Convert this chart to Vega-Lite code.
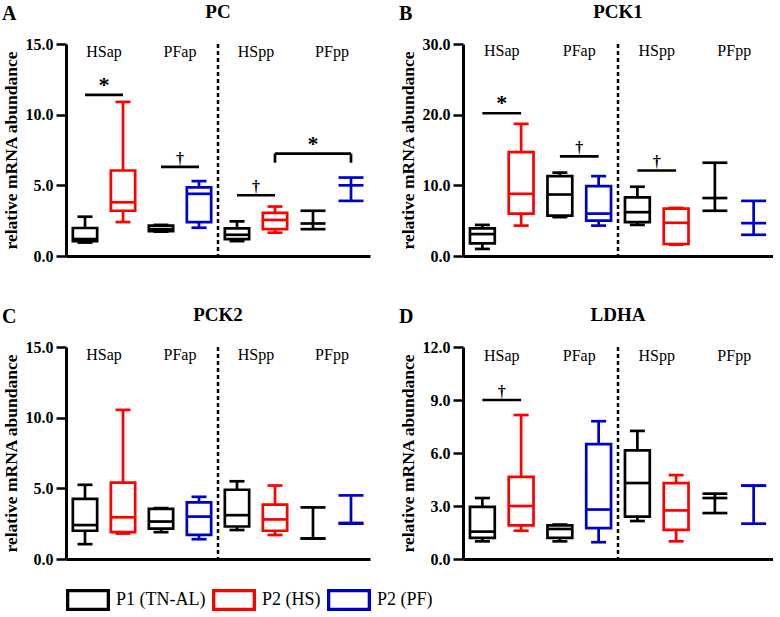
{
"$schema": "https://vega.github.io/schema/vega-lite/v6.json",
"padding": {"left": 2, "top": 3, "right": 0, "bottom": 0},
"datasets": {
"boxes": [
{"gene":"PC","cat":"HSap-P1","grp":"P1 (TN-AL)","min":0.95,"q1":1.05,"med":1.2,"q3":1.98,"max":2.78},
{"gene":"PC","cat":"HSap-HS","grp":"P2 (HS)","min":2.4,"q1":3.2,"med":3.8,"q3":6.05,"max":10.9},
{"gene":"PC","cat":"PFap-P1","grp":"P1 (TN-AL)","min":1.72,"q1":1.75,"med":1.9,"q3":2.15,"max":2.2},
{"gene":"PC","cat":"PFap-PF","grp":"P2 (PF)","min":2.0,"q1":2.4,"med":4.4,"q3":4.85,"max":5.3},
{"gene":"PC","cat":"HSpp-P1","grp":"P1 (TN-AL)","min":1.05,"q1":1.2,"med":1.5,"q3":1.95,"max":2.45},
{"gene":"PC","cat":"HSpp-HS","grp":"P2 (HS)","min":1.65,"q1":1.9,"med":2.55,"q3":3.05,"max":3.5},
{"gene":"PC","cat":"PFpp-P1","grp":"P1 (TN-AL)","min":1.9,"q1":null,"med":2.3,"q3":null,"max":3.2},
{"gene":"PC","cat":"PFpp-PF","grp":"P2 (PF)","min":3.9,"q1":null,"med":5.0,"q3":null,"max":5.55},
{"gene":"PCK1","cat":"HSap-P1","grp":"P1 (TN-AL)","min":1.0,"q1":1.8,"med":3.1,"q3":3.9,"max":4.4},
{"gene":"PCK1","cat":"HSap-HS","grp":"P2 (HS)","min":4.3,"q1":6.0,"med":8.8,"q3":14.7,"max":18.7},
{"gene":"PCK1","cat":"PFap-P1","grp":"P1 (TN-AL)","min":5.5,"q1":5.7,"med":8.7,"q3":11.3,"max":11.8},
{"gene":"PCK1","cat":"PFap-PF","grp":"P2 (PF)","min":4.3,"q1":5.0,"med":6.0,"q3":9.9,"max":11.3},
{"gene":"PCK1","cat":"HSpp-P1","grp":"P1 (TN-AL)","min":4.4,"q1":4.8,"med":6.2,"q3":8.3,"max":9.8},
{"gene":"PCK1","cat":"HSpp-HS","grp":"P2 (HS)","min":1.6,"q1":1.7,"med":4.7,"q3":6.7,"max":6.8},
{"gene":"PCK1","cat":"PFpp-P1","grp":"P1 (TN-AL)","min":6.4,"q1":null,"med":8.2,"q3":null,"max":13.2},
{"gene":"PCK1","cat":"PFpp-PF","grp":"P2 (PF)","min":3.0,"q1":null,"med":4.65,"q3":null,"max":7.8},
{"gene":"PCK2","cat":"HSap-P1","grp":"P1 (TN-AL)","min":1.05,"q1":2.0,"med":2.4,"q3":4.25,"max":5.25},
{"gene":"PCK2","cat":"HSap-HS","grp":"P2 (HS)","min":1.8,"q1":1.9,"med":2.95,"q3":5.4,"max":10.55},
{"gene":"PCK2","cat":"PFap-P1","grp":"P1 (TN-AL)","min":1.9,"q1":2.15,"med":2.65,"q3":3.55,"max":3.6},
{"gene":"PCK2","cat":"PFap-PF","grp":"P2 (PF)","min":1.4,"q1":1.7,"med":3.0,"q3":4.0,"max":4.4},
{"gene":"PCK2","cat":"HSpp-P1","grp":"P1 (TN-AL)","min":2.05,"q1":2.3,"med":3.1,"q3":4.9,"max":5.5},
{"gene":"PCK2","cat":"HSpp-HS","grp":"P2 (HS)","min":1.7,"q1":2.0,"med":2.8,"q3":3.85,"max":5.2},
{"gene":"PCK2","cat":"PFpp-P1","grp":"P1 (TN-AL)","min":1.45,"q1":null,"med":1.45,"q3":null,"max":3.65},
{"gene":"PCK2","cat":"PFpp-PF","grp":"P2 (PF)","min":2.5,"q1":null,"med":2.55,"q3":null,"max":4.5},
{"gene":"LDHA","cat":"HSap-P1","grp":"P1 (TN-AL)","min":1.0,"q1":1.2,"med":1.55,"q3":2.95,"max":3.45},
{"gene":"LDHA","cat":"HSap-HS","grp":"P2 (HS)","min":1.6,"q1":1.9,"med":3.0,"q3":4.65,"max":8.15},
{"gene":"LDHA","cat":"PFap-P1","grp":"P1 (TN-AL)","min":1.0,"q1":1.2,"med":1.7,"q3":1.9,"max":1.95},
{"gene":"LDHA","cat":"PFap-PF","grp":"P2 (PF)","min":0.95,"q1":1.75,"med":2.8,"q3":6.5,"max":7.8},
{"gene":"LDHA","cat":"HSpp-P1","grp":"P1 (TN-AL)","min":2.15,"q1":2.4,"med":4.3,"q3":6.15,"max":7.25},
{"gene":"LDHA","cat":"HSpp-HS","grp":"P2 (HS)","min":1.0,"q1":1.65,"med":2.75,"q3":4.3,"max":4.75},
{"gene":"LDHA","cat":"PFpp-P1","grp":"P1 (TN-AL)","min":2.6,"q1":null,"med":3.45,"q3":null,"max":3.7},
{"gene":"LDHA","cat":"PFpp-PF","grp":"P2 (PF)","min":2.0,"q1":null,"med":4.15,"q3":null,"max":4.15}
],
"sig": [
{"gene":"PC","c1":"HSap-P1","c2":"HSap-HS","y":11.4,"sym":"*"},
{"gene":"PC","c1":"PFap-P1","c2":"PFap-PF","y":6.3,"sym":"†"},
{"gene":"PC","c1":"HSpp-P1","c2":"HSpp-HS","y":4.3,"sym":"†"},
{"gene":"PCK1","c1":"HSap-P1","c2":"HSap-HS","y":20.2,"sym":"*"},
{"gene":"PCK1","c1":"PFap-P1","c2":"PFap-PF","y":14.1,"sym":"†"},
{"gene":"PCK1","c1":"HSpp-P1","c2":"HSpp-HS","y":12.1,"sym":"†"},
{"gene":"LDHA","c1":"HSap-P1","c2":"HSap-HS","y":9.0,"sym":"†"}
],
"bracket": [
{"gene":"PC","c1":"HSpp-HS","c2":"PFpp-PF","mid":"PFpp-P1","y":7.25,"ylo":6.6,"sym":"*"}
],
"labels": [
{"cat":"HSap-HS","label":"HSap"},
{"cat":"PFap-PF","label":"PFap"},
{"cat":"HSpp-HS","label":"HSpp"},
{"cat":"PFpp-PF","label":"PFpp"}
]
},
"spacing": 42,
"vconcat": [
{"spacing": 29, "hconcat": [
{"title": {"text": "A", "anchor": "start", "fontSize": 20, "fontWeight": "bold", "offset": 0, "dy": 21},
 "vconcat": [{
  "title": {"text": "PC", "anchor": "middle", "frame": "group", "fontSize": 19, "fontWeight": "bold", "offset": 14},
  "width": 304, "height": 212,
  "layer": [
   {"data": {"values": [{"cat": "HSpp-P1"}]}, "mark": {"type": "rule", "strokeDash": [4,3], "strokeWidth": 2.5, "color": "black"},
    "encoding": {"x": {"field": "cat", "type": "nominal", "bandPosition": 0, "scale": {"domain": ["HSap-P1","HSap-HS","PFap-P1","PFap-PF","HSpp-P1","HSpp-HS","PFpp-P1","PFpp-PF"], "paddingInner": 0, "paddingOuter": 0}, "title": null}}},
   {"data": {"name": "boxes"}, "transform": [{"filter": "datum.gene == 'PC' && datum.q1 !== null"}], "mark": {"type": "rule", "strokeWidth": 2.7},
    "encoding": {"x": {"field": "cat", "type": "nominal", "scale": {"domain": ["HSap-P1","HSap-HS","PFap-P1","PFap-PF","HSpp-P1","HSpp-HS","PFpp-P1","PFpp-PF"], "paddingInner": 0, "paddingOuter": 0}, "title": null, "axis": {"labels": false, "ticks": false, "domainWidth": 3, "domainColor": "black"}},
     "y": {"field": "min", "type": "quantitative", "scale": {"domain": [0, 15], "nice": false}, "axis": {"values": [0, 5, 10, 15], "format": ".1f", "labelOverlap": false, "labelFont": "Liberation Serif", "labelFontSize": 16, "labelFontWeight": "bold", "labelColor": "black", "titleFont": "Liberation Serif", "titleFontSize": 17.5, "titleFontWeight": "bold", "titleColor": "black", "tickSize": 10, "tickWidth": 2.5, "tickColor": "black", "domainWidth": 3, "domainColor": "black", "labelPadding": 3, "titlePadding": 5}, "title": "relative mRNA abundance"},
     "y2": {"field": "q1"},
     "stroke": {"field": "grp", "type": "nominal", "scale": {"domain": ["P1 (TN-AL)","P2 (HS)","P2 (PF)"], "range": ["#000000","#ff0000","#0000cc"]}, "title": null,
      "legend": {"orient": "bottom", "direction": "horizontal", "offset": 11, "symbolType": "M-1,-0.5H1V0.5H-1Z M-0.85,-0.35V0.35H0.85V-0.35Z", "symbolSize": 1936, "symbolStrokeWidth": 0, "labelFont": "Liberation Serif", "labelFontSize": 18, "labelColor": "black", "labelOffset": 6, "columnPadding": 6}}}},
   {"data": {"name": "boxes"}, "transform": [{"filter": "datum.gene == 'PC' && datum.q1 !== null"}], "mark": {"type": "rule", "strokeWidth": 2.7},
    "encoding": {"x": {"field": "cat", "type": "nominal", "title": null},
     "y": {"field": "q3", "type": "quantitative", "title": "relative mRNA abundance"}, "y2": {"field": "max"},
     "stroke": {"field": "grp", "type": "nominal", "title": null}}},
   {"data": {"name": "boxes"}, "transform": [{"filter": "datum.gene == 'PC' && datum.q1 === null"}], "mark": {"type": "rule", "strokeWidth": 2.7},
    "encoding": {"x": {"field": "cat", "type": "nominal", "title": null},
     "y": {"field": "min", "type": "quantitative", "title": "relative mRNA abundance"}, "y2": {"field": "max"},
     "stroke": {"field": "grp", "type": "nominal", "title": null}}},
   {"data": {"name": "boxes"}, "transform": [{"filter": "datum.gene == 'PC' && datum.q1 !== null"}], "mark": {"type": "bar", "filled": false, "strokeWidth": 2.7, "width": {"band": 0.64}},
    "encoding": {"x": {"field": "cat", "type": "nominal", "title": null},
     "y": {"field": "q1", "type": "quantitative", "title": "relative mRNA abundance"}, "y2": {"field": "q3"},
     "stroke": {"field": "grp", "type": "nominal", "title": null}}},
   {"data": {"name": "boxes"}, "transform": [{"filter": "datum.gene == 'PC'"}], "mark": {"type": "tick", "thickness": 2.7, "size": 25, "opacity": 1},
    "encoding": {"x": {"field": "cat", "type": "nominal", "title": null},
     "y": {"field": "med", "type": "quantitative", "title": "relative mRNA abundance"},
     "color": {"field": "grp", "type": "nominal", "scale": {"domain": ["P1 (TN-AL)","P2 (HS)","P2 (PF)"], "range": ["#000000","#ff0000","#0000cc"]}, "legend": null}}},
   {"data": {"name": "boxes"}, "transform": [{"filter": "datum.gene == 'PC'"}, {"fold": ["min", "max"], "as": ["stat", "v"]}], "mark": {"type": "tick", "thickness": 2.7, "opacity": 1},
    "encoding": {"x": {"field": "cat", "type": "nominal", "title": null},
     "y": {"field": "v", "type": "quantitative", "title": "relative mRNA abundance"},
     "size": {"condition": {"test": "datum.q1 === null", "value": 25}, "value": 15},
     "color": {"field": "grp", "type": "nominal", "legend": null}}},
   {"data": {"name": "labels"}, "mark": {"type": "text", "fontSize": 16, "baseline": "middle", "fill": "black"},
    "encoding": {"x": {"field": "cat", "type": "nominal", "bandPosition": 0, "title": null},
     "y": {"datum": 14.4, "type": "quantitative", "title": "relative mRNA abundance"}, "text": {"field": "label"}}},
   {"data": {"name": "sig"}, "transform": [{"filter": "datum.gene == 'PC'"}], "mark": {"type": "rule", "strokeWidth": 2.7, "color": "black"},
    "encoding": {"x": {"field": "c1", "type": "nominal", "title": null}, "x2": {"field": "c2"},
     "y": {"field": "y", "type": "quantitative", "title": "relative mRNA abundance"}}},
   {"data": {"name": "sig"}, "transform": [{"filter": "datum.gene == 'PC'"}], "mark": {"type": "text", "fontWeight": "bold", "baseline": "alphabetic", "dy": -3, "fill": "black"},
    "encoding": {"x": {"field": "c2", "type": "nominal", "bandPosition": 0, "title": null},
     "y": {"field": "y", "type": "quantitative", "title": "relative mRNA abundance"}, "text": {"field": "sym"},
     "size": {"condition": {"test": "datum.sym == '*'", "value": 22}, "value": 16}}},
   {"data": {"name": "bracket"}, "mark": {"type": "rule", "strokeWidth": 2.7, "color": "black"},
    "encoding": {"x": {"field": "c1", "type": "nominal", "title": null}, "x2": {"field": "c2"},
     "y": {"field": "y", "type": "quantitative", "title": "relative mRNA abundance"}}},
   {"data": {"name": "bracket"}, "transform": [{"fold": ["c1", "c2"], "as": ["end", "cat"]}], "mark": {"type": "rule", "strokeWidth": 2.7, "color": "black"},
    "encoding": {"x": {"field": "cat", "type": "nominal", "title": null},
     "y": {"field": "ylo", "type": "quantitative", "title": "relative mRNA abundance"}, "y2": {"field": "y"}}},
   {"data": {"name": "bracket"}, "mark": {"type": "text", "fontWeight": "bold", "baseline": "alphabetic", "dy": -3, "fontSize": 22, "fill": "black"},
    "encoding": {"x": {"field": "mid", "type": "nominal", "title": null},
     "y": {"field": "y", "type": "quantitative", "title": "relative mRNA abundance"}, "text": {"field": "sym"}}}
  ]
 }]
},
{"title": {"text": "B", "anchor": "start", "fontSize": 20, "fontWeight": "bold", "offset": 0, "dy": 21},
 "vconcat": [{
  "title": {"text": "PCK1", "anchor": "middle", "frame": "group", "fontSize": 19, "fontWeight": "bold", "offset": 14},
  "width": 310, "height": 212,
  "layer": [
   {"data": {"values": [{"cat": "HSpp-P1"}]}, "mark": {"type": "rule", "strokeDash": [4,3], "strokeWidth": 2.5, "color": "black"},
    "encoding": {"x": {"field": "cat", "type": "nominal", "bandPosition": 0, "scale": {"domain": ["HSap-P1","HSap-HS","PFap-P1","PFap-PF","HSpp-P1","HSpp-HS","PFpp-P1","PFpp-PF"], "paddingInner": 0, "paddingOuter": 0}, "title": null}}},
   {"data": {"name": "boxes"}, "transform": [{"filter": "datum.gene == 'PCK1' && datum.q1 !== null"}], "mark": {"type": "rule", "strokeWidth": 2.7},
    "encoding": {"x": {"field": "cat", "type": "nominal", "scale": {"domain": ["HSap-P1","HSap-HS","PFap-P1","PFap-PF","HSpp-P1","HSpp-HS","PFpp-P1","PFpp-PF"], "paddingInner": 0, "paddingOuter": 0}, "title": null, "axis": {"labels": false, "ticks": false, "domainWidth": 3, "domainColor": "black"}},
     "y": {"field": "min", "type": "quantitative", "scale": {"domain": [0, 30], "nice": false}, "axis": {"values": [0, 10, 20, 30], "format": ".1f", "labelOverlap": false, "labelFont": "Liberation Serif", "labelFontSize": 16, "labelFontWeight": "bold", "labelColor": "black", "titleFont": "Liberation Serif", "titleFontSize": 17.5, "titleFontWeight": "bold", "titleColor": "black", "tickSize": 10, "tickWidth": 2.5, "tickColor": "black", "domainWidth": 3, "domainColor": "black", "labelPadding": 3, "titlePadding": 5}, "title": "relative mRNA abundance"},
     "y2": {"field": "q1"},
     "stroke": {"field": "grp", "type": "nominal", "title": null}}},
   {"data": {"name": "boxes"}, "transform": [{"filter": "datum.gene == 'PCK1' && datum.q1 !== null"}], "mark": {"type": "rule", "strokeWidth": 2.7},
    "encoding": {"x": {"field": "cat", "type": "nominal", "title": null},
     "y": {"field": "q3", "type": "quantitative", "title": "relative mRNA abundance"}, "y2": {"field": "max"},
     "stroke": {"field": "grp", "type": "nominal", "title": null}}},
   {"data": {"name": "boxes"}, "transform": [{"filter": "datum.gene == 'PCK1' && datum.q1 === null"}], "mark": {"type": "rule", "strokeWidth": 2.7},
    "encoding": {"x": {"field": "cat", "type": "nominal", "title": null},
     "y": {"field": "min", "type": "quantitative", "title": "relative mRNA abundance"}, "y2": {"field": "max"},
     "stroke": {"field": "grp", "type": "nominal", "title": null}}},
   {"data": {"name": "boxes"}, "transform": [{"filter": "datum.gene == 'PCK1' && datum.q1 !== null"}], "mark": {"type": "bar", "filled": false, "strokeWidth": 2.7, "width": {"band": 0.64}},
    "encoding": {"x": {"field": "cat", "type": "nominal", "title": null},
     "y": {"field": "q1", "type": "quantitative", "title": "relative mRNA abundance"}, "y2": {"field": "q3"},
     "stroke": {"field": "grp", "type": "nominal", "title": null}}},
   {"data": {"name": "boxes"}, "transform": [{"filter": "datum.gene == 'PCK1'"}], "mark": {"type": "tick", "thickness": 2.7, "size": 25, "opacity": 1},
    "encoding": {"x": {"field": "cat", "type": "nominal", "title": null},
     "y": {"field": "med", "type": "quantitative", "title": "relative mRNA abundance"},
     "color": {"field": "grp", "type": "nominal", "legend": null}}},
   {"data": {"name": "boxes"}, "transform": [{"filter": "datum.gene == 'PCK1'"}, {"fold": ["min", "max"], "as": ["stat", "v"]}], "mark": {"type": "tick", "thickness": 2.7, "opacity": 1},
    "encoding": {"x": {"field": "cat", "type": "nominal", "title": null},
     "y": {"field": "v", "type": "quantitative", "title": "relative mRNA abundance"},
     "size": {"condition": {"test": "datum.q1 === null", "value": 25}, "value": 15},
     "color": {"field": "grp", "type": "nominal", "legend": null}}},
   {"data": {"name": "labels"}, "mark": {"type": "text", "fontSize": 16, "baseline": "middle", "fill": "black"},
    "encoding": {"x": {"field": "cat", "type": "nominal", "bandPosition": 0, "title": null},
     "y": {"datum": 29.0, "type": "quantitative", "title": "relative mRNA abundance"}, "text": {"field": "label"}}},
   {"data": {"name": "sig"}, "transform": [{"filter": "datum.gene == 'PCK1'"}], "mark": {"type": "rule", "strokeWidth": 2.7, "color": "black"},
    "encoding": {"x": {"field": "c1", "type": "nominal", "title": null}, "x2": {"field": "c2"},
     "y": {"field": "y", "type": "quantitative", "title": "relative mRNA abundance"}}},
   {"data": {"name": "sig"}, "transform": [{"filter": "datum.gene == 'PCK1'"}], "mark": {"type": "text", "fontWeight": "bold", "baseline": "alphabetic", "dy": -3, "fill": "black"},
    "encoding": {"x": {"field": "c2", "type": "nominal", "bandPosition": 0, "title": null},
     "y": {"field": "y", "type": "quantitative", "title": "relative mRNA abundance"}, "text": {"field": "sym"},
     "size": {"condition": {"test": "datum.sym == '*'", "value": 22}, "value": 16}}}
  ]
 }]
}
]},
{"spacing": 29, "hconcat": [
{"title": {"text": "C", "anchor": "start", "fontSize": 20, "fontWeight": "bold", "offset": 0, "dy": 21},
 "vconcat": [{
  "title": {"text": "PCK2", "anchor": "middle", "frame": "group", "fontSize": 19, "fontWeight": "bold", "offset": 14},
  "width": 304, "height": 212,
  "layer": [
   {"data": {"values": [{"cat": "HSpp-P1"}]}, "mark": {"type": "rule", "strokeDash": [4,3], "strokeWidth": 2.5, "color": "black"},
    "encoding": {"x": {"field": "cat", "type": "nominal", "bandPosition": 0, "scale": {"domain": ["HSap-P1","HSap-HS","PFap-P1","PFap-PF","HSpp-P1","HSpp-HS","PFpp-P1","PFpp-PF"], "paddingInner": 0, "paddingOuter": 0}, "title": null}}},
   {"data": {"name": "boxes"}, "transform": [{"filter": "datum.gene == 'PCK2' && datum.q1 !== null"}], "mark": {"type": "rule", "strokeWidth": 2.7},
    "encoding": {"x": {"field": "cat", "type": "nominal", "scale": {"domain": ["HSap-P1","HSap-HS","PFap-P1","PFap-PF","HSpp-P1","HSpp-HS","PFpp-P1","PFpp-PF"], "paddingInner": 0, "paddingOuter": 0}, "title": null, "axis": {"labels": false, "ticks": false, "domainWidth": 3, "domainColor": "black"}},
     "y": {"field": "min", "type": "quantitative", "scale": {"domain": [0, 15], "nice": false}, "axis": {"values": [0, 5, 10, 15], "format": ".1f", "labelOverlap": false, "labelFont": "Liberation Serif", "labelFontSize": 16, "labelFontWeight": "bold", "labelColor": "black", "titleFont": "Liberation Serif", "titleFontSize": 17.5, "titleFontWeight": "bold", "titleColor": "black", "tickSize": 10, "tickWidth": 2.5, "tickColor": "black", "domainWidth": 3, "domainColor": "black", "labelPadding": 3, "titlePadding": 5}, "title": "relative mRNA abundance"},
     "y2": {"field": "q1"},
     "stroke": {"field": "grp", "type": "nominal", "title": null}}},
   {"data": {"name": "boxes"}, "transform": [{"filter": "datum.gene == 'PCK2' && datum.q1 !== null"}], "mark": {"type": "rule", "strokeWidth": 2.7},
    "encoding": {"x": {"field": "cat", "type": "nominal", "title": null},
     "y": {"field": "q3", "type": "quantitative", "title": "relative mRNA abundance"}, "y2": {"field": "max"},
     "stroke": {"field": "grp", "type": "nominal", "title": null}}},
   {"data": {"name": "boxes"}, "transform": [{"filter": "datum.gene == 'PCK2' && datum.q1 === null"}], "mark": {"type": "rule", "strokeWidth": 2.7},
    "encoding": {"x": {"field": "cat", "type": "nominal", "title": null},
     "y": {"field": "min", "type": "quantitative", "title": "relative mRNA abundance"}, "y2": {"field": "max"},
     "stroke": {"field": "grp", "type": "nominal", "title": null}}},
   {"data": {"name": "boxes"}, "transform": [{"filter": "datum.gene == 'PCK2' && datum.q1 !== null"}], "mark": {"type": "bar", "filled": false, "strokeWidth": 2.7, "width": {"band": 0.64}},
    "encoding": {"x": {"field": "cat", "type": "nominal", "title": null},
     "y": {"field": "q1", "type": "quantitative", "title": "relative mRNA abundance"}, "y2": {"field": "q3"},
     "stroke": {"field": "grp", "type": "nominal", "title": null}}},
   {"data": {"name": "boxes"}, "transform": [{"filter": "datum.gene == 'PCK2'"}], "mark": {"type": "tick", "thickness": 2.7, "size": 25, "opacity": 1},
    "encoding": {"x": {"field": "cat", "type": "nominal", "title": null},
     "y": {"field": "med", "type": "quantitative", "title": "relative mRNA abundance"},
     "color": {"field": "grp", "type": "nominal", "legend": null}}},
   {"data": {"name": "boxes"}, "transform": [{"filter": "datum.gene == 'PCK2'"}, {"fold": ["min", "max"], "as": ["stat", "v"]}], "mark": {"type": "tick", "thickness": 2.7, "opacity": 1},
    "encoding": {"x": {"field": "cat", "type": "nominal", "title": null},
     "y": {"field": "v", "type": "quantitative", "title": "relative mRNA abundance"},
     "size": {"condition": {"test": "datum.q1 === null", "value": 25}, "value": 15},
     "color": {"field": "grp", "type": "nominal", "legend": null}}},
   {"data": {"name": "labels"}, "mark": {"type": "text", "fontSize": 16, "baseline": "middle", "fill": "black"},
    "encoding": {"x": {"field": "cat", "type": "nominal", "bandPosition": 0, "title": null},
     "y": {"datum": 14.4, "type": "quantitative", "title": "relative mRNA abundance"}, "text": {"field": "label"}}}
  ]
 }]
},
{"title": {"text": "D", "anchor": "start", "fontSize": 20, "fontWeight": "bold", "offset": 0, "dy": 21},
 "vconcat": [{
  "title": {"text": "LDHA", "anchor": "middle", "frame": "group", "fontSize": 19, "fontWeight": "bold", "offset": 14},
  "width": 310, "height": 212,
  "layer": [
   {"data": {"values": [{"cat": "HSpp-P1"}]}, "mark": {"type": "rule", "strokeDash": [4,3], "strokeWidth": 2.5, "color": "black"},
    "encoding": {"x": {"field": "cat", "type": "nominal", "bandPosition": 0, "scale": {"domain": ["HSap-P1","HSap-HS","PFap-P1","PFap-PF","HSpp-P1","HSpp-HS","PFpp-P1","PFpp-PF"], "paddingInner": 0, "paddingOuter": 0}, "title": null}}},
   {"data": {"name": "boxes"}, "transform": [{"filter": "datum.gene == 'LDHA' && datum.q1 !== null"}], "mark": {"type": "rule", "strokeWidth": 2.7},
    "encoding": {"x": {"field": "cat", "type": "nominal", "scale": {"domain": ["HSap-P1","HSap-HS","PFap-P1","PFap-PF","HSpp-P1","HSpp-HS","PFpp-P1","PFpp-PF"], "paddingInner": 0, "paddingOuter": 0}, "title": null, "axis": {"labels": false, "ticks": false, "domainWidth": 3, "domainColor": "black"}},
     "y": {"field": "min", "type": "quantitative", "scale": {"domain": [0, 12], "nice": false}, "axis": {"values": [0, 1.5, 3, 4.5, 6, 7.5, 9, 10.5, 12], "format": ".1f", "labelOverlap": false, "labelFont": "Liberation Serif", "labelFontSize": 16, "labelFontWeight": "bold", "labelColor": "black", "titleFont": "Liberation Serif", "titleFontSize": 17.5, "titleFontWeight": "bold", "titleColor": "black", "tickSize": 10, "tickWidth": 2.5, "tickColor": "black", "domainWidth": 3, "domainColor": "black", "labelPadding": 3, "titlePadding": 5}, "title": "relative mRNA abundance"},
     "y2": {"field": "q1"},
     "stroke": {"field": "grp", "type": "nominal", "title": null}}},
   {"data": {"name": "boxes"}, "transform": [{"filter": "datum.gene == 'LDHA' && datum.q1 !== null"}], "mark": {"type": "rule", "strokeWidth": 2.7},
    "encoding": {"x": {"field": "cat", "type": "nominal", "title": null},
     "y": {"field": "q3", "type": "quantitative", "title": "relative mRNA abundance"}, "y2": {"field": "max"},
     "stroke": {"field": "grp", "type": "nominal", "title": null}}},
   {"data": {"name": "boxes"}, "transform": [{"filter": "datum.gene == 'LDHA' && datum.q1 === null"}], "mark": {"type": "rule", "strokeWidth": 2.7},
    "encoding": {"x": {"field": "cat", "type": "nominal", "title": null},
     "y": {"field": "min", "type": "quantitative", "title": "relative mRNA abundance"}, "y2": {"field": "max"},
     "stroke": {"field": "grp", "type": "nominal", "title": null}}},
   {"data": {"name": "boxes"}, "transform": [{"filter": "datum.gene == 'LDHA' && datum.q1 !== null"}], "mark": {"type": "bar", "filled": false, "strokeWidth": 2.7, "width": {"band": 0.64}},
    "encoding": {"x": {"field": "cat", "type": "nominal", "title": null},
     "y": {"field": "q1", "type": "quantitative", "title": "relative mRNA abundance"}, "y2": {"field": "q3"},
     "stroke": {"field": "grp", "type": "nominal", "title": null}}},
   {"data": {"name": "boxes"}, "transform": [{"filter": "datum.gene == 'LDHA'"}], "mark": {"type": "tick", "thickness": 2.7, "size": 25, "opacity": 1},
    "encoding": {"x": {"field": "cat", "type": "nominal", "title": null},
     "y": {"field": "med", "type": "quantitative", "title": "relative mRNA abundance"},
     "color": {"field": "grp", "type": "nominal", "legend": null}}},
   {"data": {"name": "boxes"}, "transform": [{"filter": "datum.gene == 'LDHA'"}, {"fold": ["min", "max"], "as": ["stat", "v"]}], "mark": {"type": "tick", "thickness": 2.7, "opacity": 1},
    "encoding": {"x": {"field": "cat", "type": "nominal", "title": null},
     "y": {"field": "v", "type": "quantitative", "title": "relative mRNA abundance"},
     "size": {"condition": {"test": "datum.q1 === null", "value": 25}, "value": 15},
     "color": {"field": "grp", "type": "nominal", "legend": null}}},
   {"data": {"name": "labels"}, "mark": {"type": "text", "fontSize": 16, "baseline": "middle", "fill": "black"},
    "encoding": {"x": {"field": "cat", "type": "nominal", "bandPosition": 0, "title": null},
     "y": {"datum": 11.5, "type": "quantitative", "title": "relative mRNA abundance"}, "text": {"field": "label"}}},
   {"data": {"name": "sig"}, "transform": [{"filter": "datum.gene == 'LDHA'"}], "mark": {"type": "rule", "strokeWidth": 2.7, "color": "black"},
    "encoding": {"x": {"field": "c1", "type": "nominal", "title": null}, "x2": {"field": "c2"},
     "y": {"field": "y", "type": "quantitative", "title": "relative mRNA abundance"}}},
   {"data": {"name": "sig"}, "transform": [{"filter": "datum.gene == 'LDHA'"}], "mark": {"type": "text", "fontWeight": "bold", "baseline": "alphabetic", "dy": -3, "fill": "black"},
    "encoding": {"x": {"field": "c2", "type": "nominal", "bandPosition": 0, "title": null},
     "y": {"field": "y", "type": "quantitative", "title": "relative mRNA abundance"}, "text": {"field": "sym"},
     "size": {"condition": {"test": "datum.sym == '*'", "value": 22}, "value": 16}}}
  ]
 }]
}
]}
],
"config": {
 "font": "Liberation Serif",
 "view": {"stroke": null},
 "title": {"color": "black", "font": "Liberation Serif"},
 "axis": {"grid": false}
}
}
